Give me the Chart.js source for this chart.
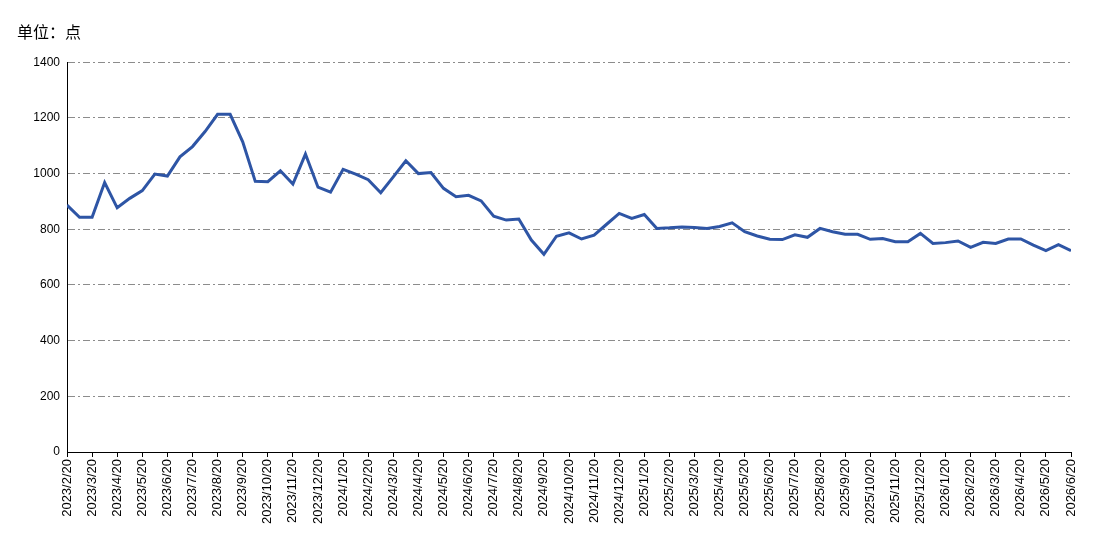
<!DOCTYPE html>
<html>
<head>
<meta charset="utf-8">
<script src="https://cdn.jsdelivr.net/npm/chart.js@4/dist/chart.umd.min.js"></script>
<style>
  html, body { margin: 0; padding: 0; background: #fff; }
  #wrap { width: 1097px; height: 554px; position: relative; }
</style>
</head>
<body>
<div id="wrap"><canvas id="c" width="1097" height="554"></canvas></div>
<script>
const unitLabel = '单位：点';

const tickLabels = [
  '2023/2/20','2023/3/20','2023/4/20','2023/5/20','2023/6/20','2023/7/20','2023/8/20','2023/9/20','2023/10/20','2023/11/20','2023/12/20',
  '2024/1/20','2024/2/20','2024/3/20','2024/4/20','2024/5/20','2024/6/20','2024/7/20','2024/8/20','2024/9/20','2024/10/20','2024/11/20','2024/12/20',
  '2025/1/20','2025/2/20','2025/3/20','2025/4/20','2025/5/20','2025/6/20','2025/7/20','2025/8/20','2025/9/20','2025/10/20','2025/11/20','2025/12/20',
  '2026/1/20','2026/2/20','2026/3/20','2026/4/20','2026/5/20','2026/6/20'
];

// semi-monthly observations (two per month), first at 2023/2/20
const values = [
  887, 843, 843, 968, 877, 911, 939, 998, 991, 1060,
  1097, 1151, 1213, 1213, 1114, 972, 971, 1010, 962, 1070,
  951, 933, 1015, 998, 978, 931, 988, 1046, 1000, 1004,
  947, 917, 922, 902, 847, 833, 837, 761, 710, 775,
  787, 765, 779, 818, 857, 839, 853, 803, 805, 808,
  806, 803, 810, 823, 791, 776, 764, 763, 780, 771,
  803, 791, 782, 782, 764, 767, 755, 755, 785, 749,
  752, 758, 735, 753, 749, 765, 765, 743, 723, 745,
  723
];

const yMin = 0, yMax = 1400, yStep = 200;

const points = values.map((v, i) => ({ x: i / 2, y: v }));

new Chart(document.getElementById('c'), {
  type: 'line',
  data: {
    datasets: [{
      data: points,
      borderColor: '#2E55A5',
      borderWidth: 3,
      pointRadius: 0,
      tension: 0,
      fill: false
    }]
  },
  options: {
    responsive: false,
    animation: false,
    layout: { padding: { left: 17, right: 26, top: 0, bottom: 0 } },
    plugins: {
      legend: { display: false },
      tooltip: { enabled: false },
      title: {
        display: true,
        text: unitLabel,
        align: 'start',
        color: '#000',
        font: { family: '"Noto Sans CJK SC", "Noto Sans", sans-serif', size: 16, weight: 'normal', lineHeight: 1.2 },
        padding: { top: 22, bottom: 21 }
      }
    },
    scales: {
      x: {
        type: 'linear',
        min: 0,
        max: tickLabels.length - 1,
        afterBuildTicks: (s) => { s.ticks = tickLabels.map((_, i) => ({ value: i })); },
        afterFit: (s) => { s.height = 102; },
        grid: { drawOnChartArea: false, drawTicks: true, tickLength: 5, tickColor: '#000', color: '#000' },
        border: { display: true, color: '#000', width: 1 },
        ticks: {
          autoSkip: false,
          maxRotation: 90,
          minRotation: 90,
          padding: 2,
          color: '#000',
          font: { family: '"Liberation Sans", Arial, sans-serif', size: 13 },
          callback: (v) => tickLabels[v]
        }
      },
      y: {
        min: yMin,
        max: yMax,
        afterFit: (s) => { s.width = 50; },
        grid: { color: '#8c8c8c', lineWidth: 1, drawTicks: false },
        border: { display: true, color: '#000', width: 1, dash: [7, 3, 2, 3] },
        ticks: {
          stepSize: yStep,
          padding: 7,
          color: '#000',
          font: { family: '"Liberation Sans", Arial, sans-serif', size: 12 },
          callback: (v) => String(v)
        }
      }
    }
  }
});
</script>
</body>
</html>
